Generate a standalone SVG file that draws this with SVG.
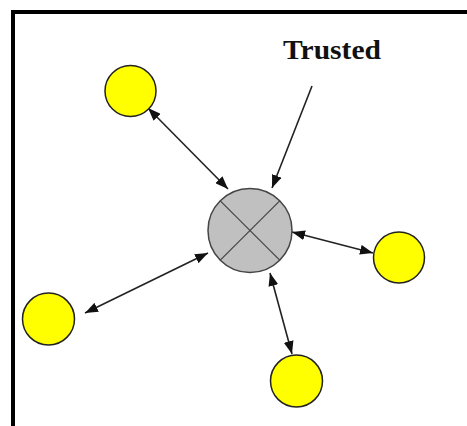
<svg xmlns="http://www.w3.org/2000/svg" width="467" height="426" viewBox="0 0 467 426">
<style>
.frame{fill:none;stroke:#000;stroke-width:4}
.peer{fill:#ffff00;stroke:#222;stroke-width:1.5}
.hub{fill:#c0c0c0;stroke:#444;stroke-width:1.5}
.cross{stroke:#444;stroke-width:1.2}
.conn{stroke:#222;stroke-width:1.6;fill:none}
.label{font-family:"Liberation Serif","Times New Roman",serif;font-weight:bold;font-size:28px;fill:#111}
</style>
<defs>
<marker id="ah" viewBox="0 0 13 10" refX="13" refY="5" markerWidth="13" markerHeight="10" markerUnits="userSpaceOnUse" orient="auto-start-reverse">
<path d="M0,0 L13,5 L0,10 z" fill="#111"/>
</marker>
</defs>
<rect width="467" height="426" fill="#fff"/>
<path class="frame" d="M13,426 L13,12 L467,12"/>
<g id="trusted-label"><text class="label" x="283" y="59" textLength="98" lengthAdjust="spacingAndGlyphs">Trusted</text></g>
<g id="connectors">
<line class="conn" x1="148" y1="108" x2="228" y2="189" marker-start="url(#ah)" marker-end="url(#ah)"/>
<line class="conn" x1="312" y1="86" x2="272" y2="188" marker-end="url(#ah)"/>
<line class="conn" x1="292" y1="232" x2="373" y2="253" marker-start="url(#ah)" marker-end="url(#ah)"/>
<line class="conn" x1="270" y1="273" x2="292" y2="354" marker-start="url(#ah)" marker-end="url(#ah)"/>
<line class="conn" x1="208" y1="253" x2="85" y2="313" marker-start="url(#ah)" marker-end="url(#ah)"/>
</g>
<g id="hub">
<circle class="hub" cx="250" cy="230.5" r="42"/>
<line class="cross" x1="220.3" y1="200.8" x2="279.7" y2="260.2"/>
<line class="cross" x1="279.7" y1="200.8" x2="220.3" y2="260.2"/>
</g>
<g id="peer-top-left"><circle class="peer" cx="130.5" cy="91" r="25.5"/></g>
<g id="peer-left"><circle class="peer" cx="48.5" cy="319" r="26"/></g>
<g id="peer-bottom"><circle class="peer" cx="296.5" cy="381" r="26"/></g>
<g id="peer-right"><circle class="peer" cx="399" cy="257.5" r="25.5"/></g>
</svg>
